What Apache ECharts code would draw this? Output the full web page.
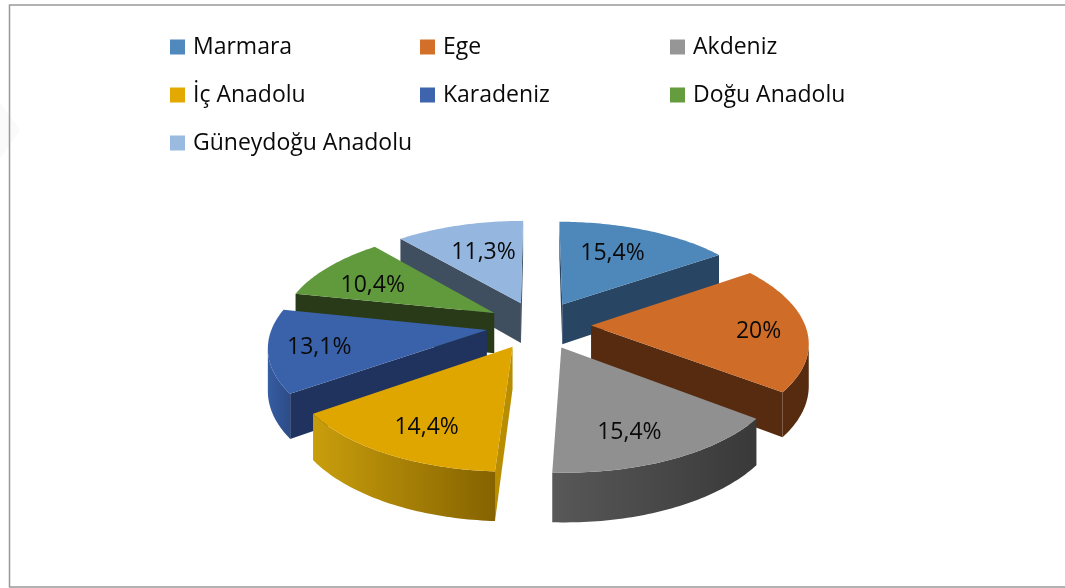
<!DOCTYPE html>
<html>
<head>
<meta charset="utf-8">
<style>
  html, body { margin: 0; padding: 0; background: #fff; }
  #main { width: 1065px; height: 588px; }
</style>
<script src="https://cdn.jsdelivr.net/npm/echarts@6/dist/echarts.min.js"></script>
</head>
<body>
<div id="main"></div>
<script>
const regions = ['Marmara', 'Ege', 'Akdeniz', 'İç Anadolu', 'Karadeniz', 'Doğu Anadolu', 'Güneydoğu Anadolu'];
const shares = [15.4, 20, 15.4, 14.4, 13.1, 10.4, 11.3];

// renk ve etiket ayarlari
const legendColors = ['#4f89bd', '#d2702a', '#969696', '#e3a900', '#3d64ad', '#659c3e', '#9abae0'];
const topColors = ['#4e87ba', '#ce6c28', '#909090', '#e0a600', '#3a62aa', '#619a3c', '#94b6df'];
const sideColors = ['#284663', '#562b0f', '#3c3c3c', '#b88e00', '#1f335e', '#283a17', '#3f4f60'];
const rimColors = [
  ['#284663', '#284663'], ['#562b0f', '#562b0f'], ['#585858', '#393939'], ['#c99e0c', '#856300'],
  ['#365ca2', '#2c4c86'], ['#283a17', '#283a17'], ['#3f4f60', '#3f4f60']
];
const labelRadius = [0.55, 0.77, 0.75, 0.77, 0.78, 0.62, 0.56];
const labelShift = [[2, -8], [2, 4], [-12, 4], [8, 1], [2, 1], [-16, 2], [-1, -5]];
const drawOrder = [0, 6, 5, 1, 4, 2, 3];

// pastanin izdusumu
const cx = 538.6, cy = 325, radiusX = 214, radiusY = 100;
const perspective = 0.144, explodeX = 0.245, explodeY = 0.24, depth = 41;

const project = (theta, r, mid, z) => {
  const x = explodeX * Math.sin(mid) + r * Math.sin(theta);
  const y = explodeY * Math.cos(mid) + r * Math.cos(theta);
  const s = 1 / (1 + perspective * y);
  return [cx + radiusX * x * s, cy - radiusY * y * s + z * depth * s];
};

const sideWall = (a, b, c, mid, theta, color) => {
  if (a[0] === b[0]) return null;
  const lineY = a[1] + (b[1] - a[1]) * (c[0] - a[0]) / (b[0] - a[0]);
  if (c[1] >= lineY) return null;
  return {
    type: 'polygon',
    shape: { points: [a, b, project(theta, 1, mid, 1), project(theta, 0, mid, 1)] },
    style: { fill: color }
  };
};

const renderSlice = (idx) => (params, api) => {
  const startPct = api.value(0);
  const value = api.value(1);
  const t0 = startPct / 100 * Math.PI * 2;
  const t1 = (startPct + value) / 100 * Math.PI * 2;
  const mid = (t0 + t1) / 2;
  const steps = Math.ceil((t1 - t0) / (Math.PI / 180));
  const thetas = [];
  for (let i = 0; i <= steps; i++) thetas.push(t0 + (t1 - t0) * i / steps);
  const arc = thetas.map((t) => project(t, 1, mid, 0));
  const apex = project(0, 0, mid, 0);
  const inner = arc[Math.floor(steps / 2)];
  const children = [];

  const w0 = sideWall(apex, arc[0], inner, mid, t0, sideColors[idx]);
  const w1 = sideWall(apex, arc[steps], inner, mid, t1, sideColors[idx]);
  if (w0) children.push(w0);
  if (w1) children.push(w1);

  // gorunen dis duvar: ekranda x'in azaldigi parca
  let from = -1, to = -1;
  for (let i = 0; i < steps; i++) {
    if (arc[i + 1][0] < arc[i][0]) {
      if (from < 0) from = i;
      to = i + 1;
    }
  }
  if (from >= 0) {
    const pts = arc.slice(from, to + 1);
    for (let i = to; i >= from; i--) pts.push(project(thetas[i], 1, mid, 1));
    children.push({
      type: 'polygon',
      shape: { points: pts },
      style: {
        fill: new echarts.graphic.LinearGradient(0, 0, 1, 0, [
          { offset: 0, color: rimColors[idx][0] },
          { offset: 1, color: rimColors[idx][1] }
        ])
      }
    });
  }

  children.push({
    type: 'polygon',
    shape: { points: [apex].concat(arc) },
    style: { fill: topColors[idx] }
  });

  const lp = project(mid, labelRadius[idx], mid, 0);
  children.push({
    type: 'text',
    style: {
      text: String(value).replace('.', ',') + '%',
      x: lp[0] + labelShift[idx][0], y: lp[1] + labelShift[idx][1],
      align: 'center', verticalAlign: 'middle',
      fill: '#0a0a0a', font: '23px "Open Sans"'
    }
  });
  return { type: 'group', children };
};

let cumulative = 0;
const starts = shares.map((v) => { const s = cumulative; cumulative += v; return s; });

const myChart = echarts.init(document.getElementById('main'), null, { renderer: 'canvas' });
myChart.setOption({
  animation: false,
  backgroundColor: '#fff',
  legend: {
    data: regions.map((name, i) => ({ name, itemStyle: { color: legendColors[i] } })),
    left: 170, top: 23,
    width: 760,
    padding: 0,
    itemGap: 0,
    itemWidth: 15, itemHeight: 15,
    icon: 'rect',
    selectedMode: false,
    textStyle: { fontFamily: 'Open Sans', fontSize: 23, color: '#0a0a0a', width: 227, lineHeight: 48, padding: [0, 0, 0, 3] }
  },
  graphic: [
    { type: 'polygon', z: 0, shape: { points: [[0, 103], [20, 130], [0, 158]] }, style: { fill: '#fafafa' } },
    { type: 'rect', z: 1, shape: { x: 9.5, y: 5, width: 1100, height: 582 }, style: { fill: 'none', stroke: '#999', lineWidth: 1.5 } }
  ],
  series: regions.map((name, i) => ({
    name,
    type: 'custom',
    coordinateSystem: 'none',
    z: 2 + drawOrder.indexOf(i),
    itemStyle: { color: legendColors[i] },
    data: [[starts[i], shares[i]]],
    renderItem: renderSlice(i)
  }))
});
</script>
</body>
</html>
